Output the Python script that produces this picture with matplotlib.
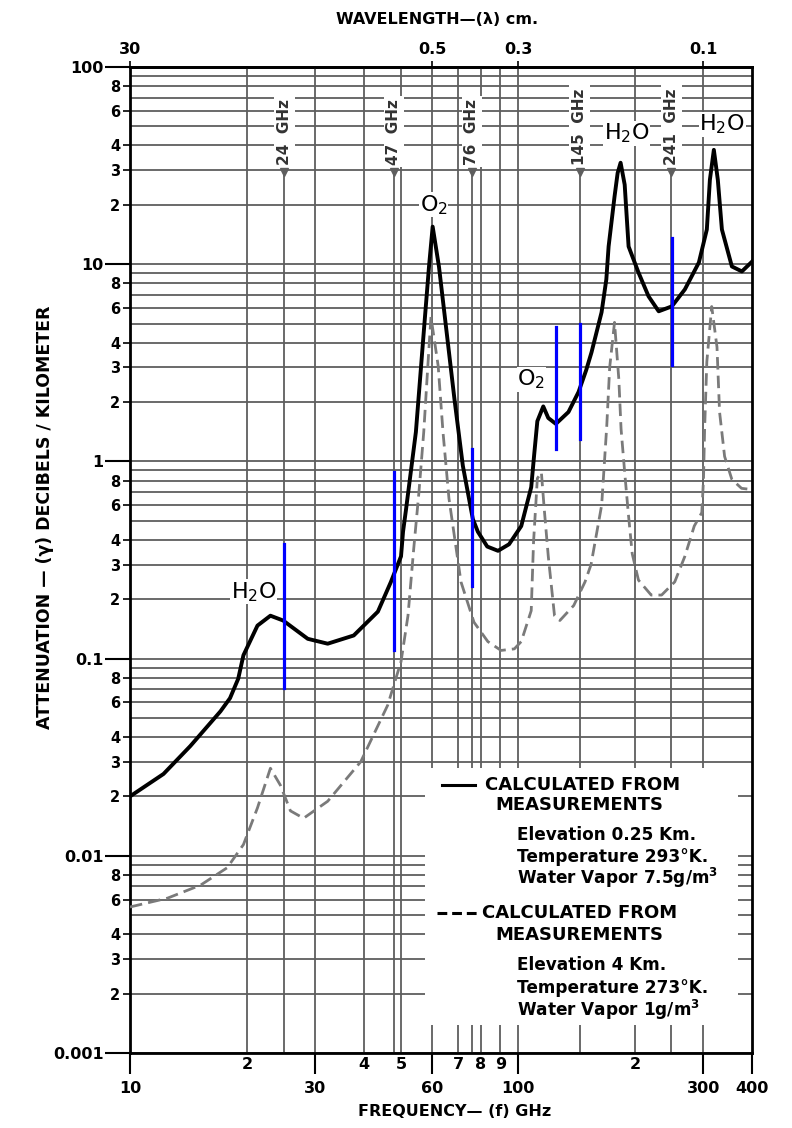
import matplotlib
matplotlib.use("Agg")
import matplotlib.pyplot as plt
from matplotlib.ticker import FixedLocator, FixedFormatter

# solid curve: 0.25 km, 293 K, 7.5 g/m3
solid_freq = [10, 12.2, 14.3, 17.1, 18.1, 19.0, 19.6, 21.3, 23.0, 24.8, 28.7,
              32.3, 37.7, 43.5, 47.0, 49.9, 50.5, 51.4, 54.5, 57.1, 58.9, 60.2,
              62.5, 65.4, 68.5, 72.0, 76.4, 78.7, 83.2, 88.7, 94.7, 101.8, 108,
              110, 112, 116, 119.5, 125, 134.7, 143, 149.6, 154.4, 163.9, 168.6,
              170.9, 177, 180.3, 183.5, 188, 192.4, 204, 216.6, 230, 248.6,
              268.6, 291.9, 306, 311.6, 319, 326.6, 334.6, 355, 376.7, 400]
solid_att = [0.020, 0.026, 0.036, 0.054, 0.063, 0.079, 0.104, 0.147, 0.165,
             0.156, 0.126, 0.119, 0.131, 0.173, 0.245, 0.33, 0.44, 0.57, 1.41,
             4.52, 9.7, 15.5, 9.7, 4.52, 2.07, 0.95, 0.51, 0.44, 0.37, 0.352,
             0.38, 0.47, 0.74, 1.1, 1.6, 1.9, 1.66, 1.55, 1.78, 2.25, 2.9, 3.57,
             5.7, 8.37, 12.3, 22, 29, 32.7, 25.3, 12.3, 9.08, 6.87, 5.77, 6.11,
             7.45, 10.2, 15, 26.8, 38, 26.8, 15, 9.74, 9.19, 10.3]

# dashed curve: 4 km, 273 K, 1 g/m3
dashed_freq = [10, 12.5, 15.2, 17.8, 19.6, 21.3, 23.0, 24.4, 25.9, 28.0, 32.3,
               39.3, 46.1, 49.9, 52.0, 53.8, 55.5, 57.1, 58.5, 59.6, 62.2, 64.0,
               66.3, 71.2, 76.9, 83.5, 90.3, 97.7, 101.8, 108, 109.5, 112, 114.7,
               116.7, 119.5, 124, 128, 139, 148.6, 154, 164, 169, 172, 177,
               181.6, 184, 188, 192, 196.6, 204, 220, 234, 253, 268.6, 284, 297,
               300, 302, 306, 315, 325, 330, 340, 355, 376, 400]
dashed_att = [0.0055, 0.0061, 0.0071, 0.0087, 0.0114, 0.0175, 0.0278, 0.0228,
              0.0169, 0.0155, 0.0189, 0.030, 0.058, 0.0965, 0.165, 0.36, 0.7,
              1.41, 3.05, 5.4, 3.05, 1.41, 0.65, 0.245, 0.153, 0.122, 0.11,
              0.112, 0.122, 0.175, 0.39, 0.82, 0.88, 0.57, 0.33, 0.165, 0.156,
              0.186, 0.245, 0.30, 0.6, 1.5, 3.0, 5.07, 2.6, 1.46, 0.88, 0.55,
              0.34, 0.25, 0.21, 0.21, 0.245, 0.33, 0.47, 0.55, 0.81, 1.46, 3.2,
              6.1, 3.8, 1.78, 1.06, 0.81, 0.73, 0.72]

# marked frequencies along the top
marker_freq = [25.0, 47.8, 76.0, 144.0, 248.0]
marker_text = ["24", "47", "76", "145", "241"]

# blue bars
blue_freq = [25.0, 47.8, 76.0, 125.3, 144.0, 248.5]
blue_low = [0.071, 0.11, 0.234, 1.16, 1.30, 3.1]
blue_high = [0.38, 0.884, 1.16, 4.79, 5.0, 13.6]

grid_freq = [20, 30, 40, 50, 60, 70, 80, 90, 100, 200, 300]
grid_att = [m * 10.0 ** k for k in range(-3, 2) for m in range(1, 10)]

x_major = [10, 30, 60, 100, 300, 400]
x_minor = [20, 40, 50, 70, 80, 90, 200]
x_minor_text = ["2", "4", "5", "7", "8", "9", "2"]
y_major = [0.001, 0.01, 0.1, 1, 10, 100]
y_major_text = ["0.001", "0.01", "0.1", "1", "10", "100"]
y_minor = [m * 10.0 ** k for k in range(-3, 2) for m in (2, 3, 4, 6, 8)]
y_minor_text = [str(m) for k in range(-3, 2) for m in (2, 3, 4, 6, 8)]
wave_ticks = [3.0, 0.5, 0.3, 0.1]
wave_text = ["30", "0.5", "0.3", "0.1"]

GRID = "#5e5e5e"
BOLD = dict(fontweight="bold", family="DejaVu Sans")


def main():
    fig = plt.figure(figsize=(7.92, 11.28), dpi=100)
    ax = fig.add_axes([0.1641, 0.0665, 0.7854, 0.8741])
    ax.set_xscale("log")
    ax.set_yscale("log")
    ax.set_xlim(10, 400)
    ax.set_ylim(0.001, 100)

    for v in grid_att:
        ax.axhline(v, color=GRID, lw=1.3, zorder=1)
    for f in grid_freq:
        ax.axvline(f, color=GRID, lw=1.3, zorder=1)

    # marker lines with arrow heads and labels
    for f, t in zip(marker_freq, marker_text):
        ax.plot([f, f], [0.001, 29.4], color=GRID, lw=1.3, zorder=1)
        ax.plot([f], [29.4], marker="v", color=GRID, ms=6, zorder=2)
        ax.text(f, 32, t + "  GHz", rotation=90, ha="center", va="bottom",
                fontsize=11, color="#333333", zorder=3,
                bbox=dict(fc="white", ec="none", pad=2), **BOLD)

    # blank legend area
    ax.add_patch(plt.Rectangle((0.474, 0.028), 0.503, 0.261,
                               transform=ax.transAxes, fc="white", ec="none",
                               zorder=2))

    ax.plot(dashed_freq, dashed_att, color="#7a7a7a", lw=2.0,
            dashes=(4.5, 2.2), zorder=4)
    ax.plot(solid_freq, solid_att, color="black", lw=2.8,
            solid_joinstyle="round", zorder=5)

    for f, lo, hi in zip(blue_freq, blue_low, blue_high):
        ax.plot([f, f], [lo, hi], color="#0000ff", lw=2.3, zorder=6)

    # molecule labels
    chem = dict(fontsize=16, ha="center", va="center", zorder=7,
                bbox=dict(fc="white", ec="none", pad=0.5))
    ax.text(20.8, 0.218, "H$_2$O", **chem)
    ax.text(60.6, 20, "O$_2$", **chem)
    ax.text(108, 2.6, "O$_2$", **chem)
    ax.text(190, 46, "H$_2$O", **chem)
    ax.text(335, 51, "H$_2$O", **chem)

    # legend text
    ax.plot([0.502, 0.555], [0.272, 0.272], color="black", lw=2.2,
            transform=ax.transAxes, zorder=7)
    ax.plot([0.494, 0.559], [0.142, 0.142], color="black", lw=2.2,
            dashes=(3.2, 1.6), transform=ax.transAxes, zorder=7)
    leg = [(0.571, 0.272, "CALCULATED FROM", 13),
           (0.587, 0.2515, "MEASUREMENTS", 13),
           (0.622, 0.221, "Elevation 0.25 Km.", 12.2),
           (0.622, 0.199, "Temperature 293°K.", 12.2),
           (0.622, 0.1775, "Water Vapor 7.5g/m$^\\mathbf{3}$", 12.2),
           (0.566, 0.142, "CALCULATED FROM", 13),
           (0.587, 0.1197, "MEASUREMENTS", 13),
           (0.622, 0.0892, "Elevation 4 Km.", 12.2),
           (0.622, 0.0659, "Temperature 273°K.", 12.2),
           (0.622, 0.0436, "Water Vapor 1g/m$^\\mathbf{3}$", 12.2)]
    for x, y, t, s in leg:
        ax.text(x, y, t, transform=ax.transAxes, fontsize=s, ha="left",
                va="center", zorder=7, **BOLD)

    # axes ticks
    ax.xaxis.set_major_locator(FixedLocator(x_major))
    ax.xaxis.set_major_formatter(FixedFormatter([str(v) for v in x_major]))
    ax.xaxis.set_minor_locator(FixedLocator(x_minor))
    ax.xaxis.set_minor_formatter(FixedFormatter(x_minor_text))
    ax.tick_params(axis="x", which="major", direction="out", length=15,
                   width=1.5, pad=5, labelsize=11.5)
    ax.tick_params(axis="x", which="minor", length=0, pad=3, labelsize=11.5)

    ax.yaxis.set_major_locator(FixedLocator(y_major))
    ax.yaxis.set_major_formatter(FixedFormatter(y_major_text))
    ax.yaxis.set_minor_locator(FixedLocator(y_minor))
    ax.yaxis.set_minor_formatter(FixedFormatter(y_minor_text))
    ax.tick_params(axis="y", which="major", direction="out", length=18,
                   width=1.5, pad=1, labelsize=11.5)
    ax.tick_params(axis="y", which="minor", direction="out", length=5,
                   width=1.2, pad=2, labelsize=10.5)
    for lab in ax.get_xticklabels(which="both") + ax.get_yticklabels(which="both"):
        lab.set_fontweight("bold")

    for sp in ax.spines.values():
        sp.set_linewidth(2)

    top = ax.secondary_xaxis("top", functions=(lambda f: 30.0 / f,
                                               lambda w: 30.0 / w))
    top.xaxis.set_major_locator(FixedLocator(wave_ticks))
    top.xaxis.set_major_formatter(FixedFormatter(wave_text))
    top.xaxis.set_minor_locator(FixedLocator([]))
    top.tick_params(axis="x", which="major", length=4, width=1.2, pad=3,
                    labelsize=11.5)
    for lab in top.get_xticklabels():
        lab.set_fontweight("bold")
    top.spines["top"].set_linewidth(2)

    fig.text(0.552, 0.983, "WAVELENGTH—(λ) cm.", ha="center", va="center",
             fontsize=11.5, **BOLD)
    fig.text(0.5745, 0.015, "FREQUENCY— (f) GHz", ha="center", va="center",
             fontsize=11.5, **BOLD)
    fig.text(0.057, 0.5417, "ATTENUATION — (γ) DECIBELS / KILOMETER",
             rotation=90, ha="center", va="center", fontsize=12.5, **BOLD)

    fig.savefig("out.png", dpi=100)


if __name__ == "__main__":
    main()
